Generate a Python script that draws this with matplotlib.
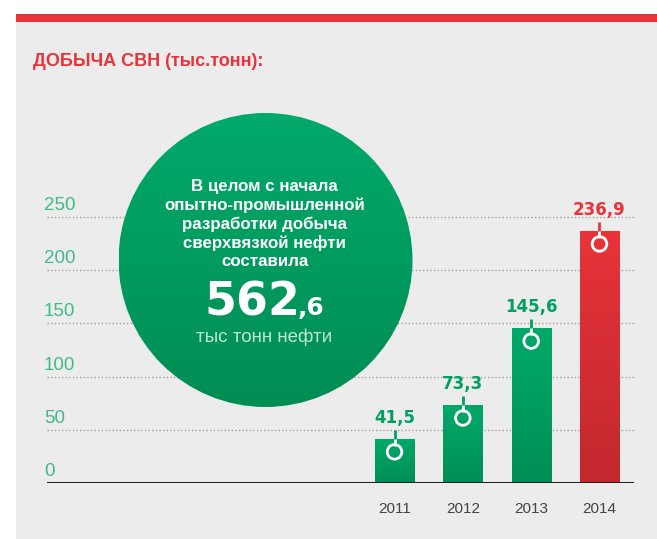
import matplotlib
matplotlib.use("Agg")
import matplotlib.pyplot as plt
import numpy as np
from matplotlib.patches import Rectangle, Circle
from matplotlib.colors import LinearSegmentedColormap

# ---- data ----
years = ["2011", "2012", "2013", "2014"]
values = [41.5, 73.3, 145.6, 236.9]
value_labels = ["41,5", "73,3", "145,6", "236,9"]
yticks = [0, 50, 100, 150, 200, 250]
title = "ДОБЫЧА СВН (тыс.тонн):"
circle_lines = ["В целом с начала", "опытно-промышленной", "разработки добыча",
                "сверхвязкой нефти", "составила"]
total_main = "562"
total_dec = ",6"
total_unit = "тыс тонн нефти"

W, H = 657, 539
DPI = 100
fig = plt.figure(figsize=(W / DPI, H / DPI), dpi=DPI)
fig.patch.set_facecolor("white")

GREY = "#ececec"
RED = "#e8333a"
GREEN_TOP, GREEN_BOT = "#00a968", "#008f55"
RED_TOP, RED_BOT = "#e8333a", "#c1282e"
TICK_GREEN = "#3fbb85"

# background axes (pixel coordinates)
bg = fig.add_axes([0, 0, 1, 1], zorder=0)
bg.set_xlim(0, W); bg.set_ylim(H, 0); bg.axis("off")
bg.add_patch(Rectangle((16, 22), W - 16, H - 22, facecolor=GREY, edgecolor="none"))
bg.add_patch(Rectangle((16, 14), W - 16, 8, facecolor=RED, edgecolor="none"))
bg.text(33, 61, title, fontsize=13, fontweight="bold", color=RED,
        family=["Liberation Sans", "DejaVu Sans"], ha="left", va="center")

# data axes
left_px, right_px, base_px = 47, 634, 483
px_per_unit = 266 / 250
ytop = 290
ax_h_px = ytop * px_per_unit
ax = fig.add_axes([left_px / W, (H - base_px) / H, (right_px - left_px) / W, ax_h_px / H], zorder=1)
ax.patch.set_alpha(0)
for s in ax.spines.values():
    s.set_visible(False)
xlo, xhi = -5.086, 3.505
x = np.arange(len(years))
width = 0.571

# gridlines
ax.hlines(yticks[1:], xlo, xhi, colors="#a0a0a0", linestyles=(0, (1, 1.6)), linewidth=1, zorder=1)
ax.axhline(0, color="#222222", linewidth=1.5, zorder=5)

def vgrad(top, bot):
    return LinearSegmentedColormap.from_list("g", [bot, top])

grad = np.linspace(0, 1, 256).reshape(-1, 1)
bars = ax.bar(x, values, width=width, color="none", edgecolor="none", zorder=2)
for i, (b, v) in enumerate(zip(bars, values)):
    last = i == len(values) - 1
    top, bot = (RED_TOP, RED_BOT) if last else (GREEN_TOP, GREEN_BOT)
    im = ax.imshow(grad, cmap=vgrad(top, bot), origin="lower", aspect="auto",
                   extent=(b.get_x(), b.get_x() + b.get_width(), 0, v), zorder=2)
    im.set_clip_path(b)
    col = RED if last else "#00a060"
    ax.plot([i, i], [v, v + 9 / px_per_unit], color=col, lw=2, zorder=3, solid_capstyle="butt")
    ax.plot([i, i], [v, v - 7 / px_per_unit], color="white", lw=2, zorder=3, solid_capstyle="butt")
    ax.scatter([i], [v - 13 / px_per_unit], s=110, facecolors="none", edgecolors="white",
               linewidths=2, zorder=4)
    ax.annotate(value_labels[i], xy=(i, v), xytext=(0, 12), textcoords="offset pixels",
                ha="center", va="bottom", fontsize=12, fontweight="bold", color=col,
                family="DejaVu Sans", zorder=4)

for t in yticks:
    ax.annotate(str(t), xy=(0, t), xycoords=("axes fraction", "data"), xytext=(-3, 3),
                textcoords="offset pixels", ha="left", va="bottom", fontsize=13.5,
                color=TICK_GREEN, family=["Liberation Sans", "DejaVu Sans"])

ax.set_xticks(x)
ax.set_xticklabels(years, fontsize=11, color="#444444", family=["Liberation Sans", "DejaVu Sans"])
ax.tick_params(axis="x", length=0, pad=14)
ax.set_yticks([])
ax.set_xlim(xlo, xhi)
ax.set_ylim(0, ytop)

# overlay axes with circle
ov = fig.add_axes([0, 0, 1, 1], zorder=2)
ov.patch.set_alpha(0)
ov.set_xlim(0, W); ov.set_ylim(H, 0); ov.axis("off")
cx, cy, r = 265.5, 260, 147
circ = Circle((cx, cy), r, facecolor="none", edgecolor="none")
ov.add_patch(circ)
cim = ov.imshow(grad, cmap=vgrad("#00a96a", "#008d54"), origin="lower", aspect="auto",
                extent=(cx - r, cx + r, cy + r, cy - r), zorder=1)
cim.set_clip_path(circ)
ov.set_xlim(0, W); ov.set_ylim(H, 0)
line_y = [187, 205, 224, 243, 262]
for ly, s in zip(line_y, circle_lines):
    ov.text(cx - 1, ly, s, fontsize=12.2, fontweight="bold", color="white",
            family=["Liberation Sans", "DejaVu Sans"], ha="center", va="center", zorder=3)
t1 = ov.text(204, 315, total_main, fontsize=33, fontweight="bold", color="white",
             family="DejaVu Sans", ha="left", va="baseline", zorder=3)
fig.canvas.draw()
bb = t1.get_window_extent(renderer=fig.canvas.get_renderer())
x_end = ov.transData.inverted().transform((bb.x1, bb.y0))[0]
ov.text(x_end - 2, 315, total_dec, fontsize=18, fontweight="bold", color="white",
        family="DejaVu Sans", ha="left", va="baseline", zorder=3)
ov.text(cx - 1, 337, total_unit, fontsize=13.5, color="#bfe8d3",
        family=["Liberation Sans", "DejaVu Sans"], ha="center", va="center", zorder=3)

fig.savefig("out.png", dpi=DPI)
